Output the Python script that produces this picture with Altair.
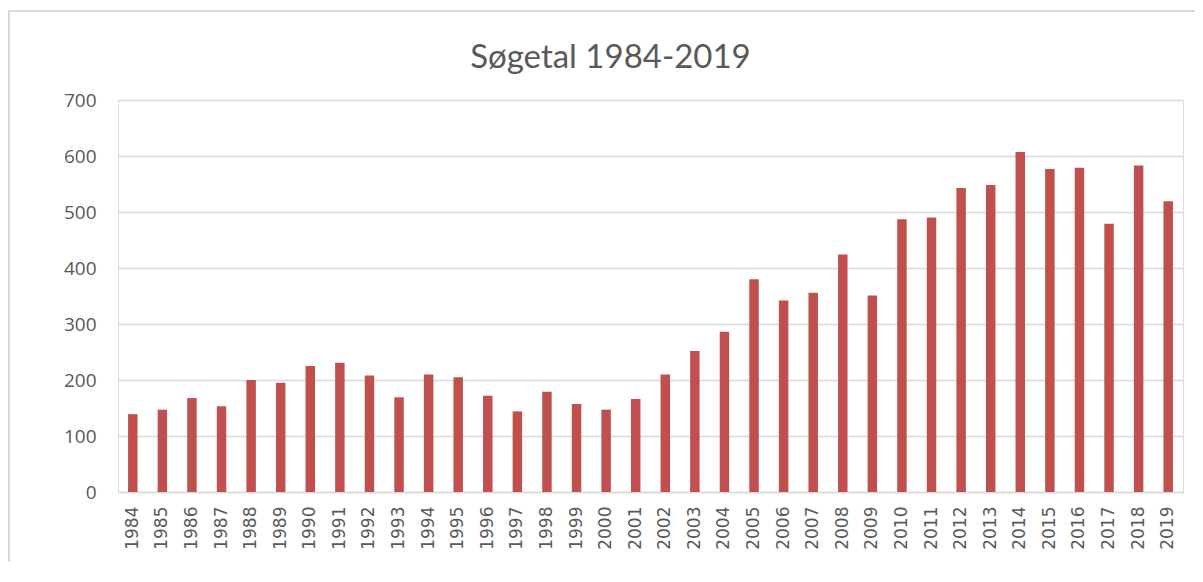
import altair as alt
import pandas as pd

years = [str(y) for y in range(1984, 2020)]
values = [139, 147, 168, 153, 200, 195, 225, 231, 208, 169, 210, 205,
          172, 144, 179, 157, 147, 166, 210, 252, 286, 380, 342, 356,
          424, 351, 487, 490, 543, 548, 607, 577, 579, 479, 583, 519]
y_ticks = [0, 100, 200, 300, 400, 500, 600, 700]

df = pd.DataFrame({"year": years, "value": values})

W, H = 1065, 392
PAD = {"left": 110, "top": 92, "right": 12, "bottom": 70}

bars = alt.Chart(df).mark_bar(color="#C0504D").encode(
    x=alt.X("year:N", sort=years, title=None,
            scale=alt.Scale(paddingInner=0.68, paddingOuter=0.34),
            axis=alt.Axis(labelAngle=-90, labelAlign="right", labelBaseline="middle",
                          labelFont="DejaVu Sans", labelFontSize=17, labelColor="#595959",
                          ticks=False, labelPadding=14, domainColor="#D9D9D9",
                          domainWidth=1.5, grid=False)),
    y=alt.Y("value:Q", title=None,
            scale=alt.Scale(domain=[0, 700], nice=False),
            axis=alt.Axis(values=y_ticks, labelFont="Open Sans", labelFontSize=19,
                          labelColor="#595959", ticks=False, labelPadding=22,
                          domain=False, gridColor="#D9D9D9", gridWidth=1.5)),
)

border_top = alt.Chart(alt.Data(values=[{}])).mark_rule(color="#D9D9D9", strokeWidth=2).encode(
    x=alt.value(-PAD["left"]), x2=alt.value(W + PAD["right"]), y=alt.value(-89)
)
border_left = alt.Chart(alt.Data(values=[{}])).mark_rule(color="#D9D9D9", strokeWidth=2).encode(
    x=alt.value(-PAD["left"] + 1), y=alt.value(-89), y2=alt.value(H + PAD["bottom"])
)

chart = alt.layer(bars, border_top, border_left).properties(
    width=W, height=H,
    title=alt.TitleParams("Søgetal 1984-2019", font="Lato", fontSize=33, fontWeight="normal",
                          color="#595959", anchor="middle", dx=-40, offset=-91,
                          baseline="alphabetic"),
    autosize=alt.AutoSizeParams(type="none"),
    padding=PAD,
).configure_view(strokeWidth=0).configure(background="white")

chart.save("out.html", embed_options={"renderer": "svg", "actions": False})
